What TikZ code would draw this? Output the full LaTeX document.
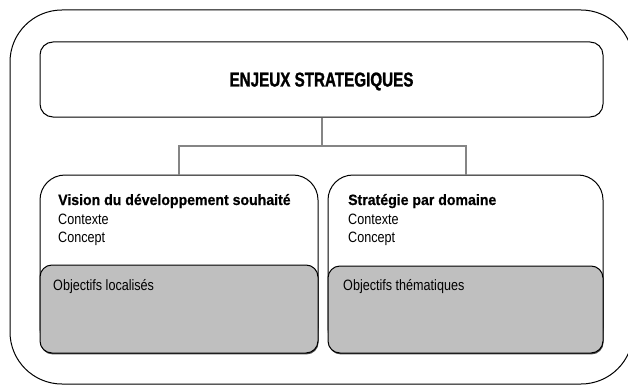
\documentclass[tikz,border=0pt]{standalone}
\usepackage{fontspec}
\setmainfont{Liberation Sans}[FakeStretch=0.84]
\newfontfamily\titlefont{Liberation Sans}[FakeStretch=0.76, BoldFeatures={FakeBold=1.2}]
\newfontfamily\headfont{Liberation Sans}[FakeStretch=0.94, BoldFeatures={FakeBold=0.6}]
\definecolor{boxgrey}{HTML}{BFBFBF}
\definecolor{conngrey}{HTML}{858585}
\definecolor{shadowgrey}{HTML}{4A4A4A}
\begin{document}
\begin{tikzpicture}[x=1pt,y=-1pt,
  box/.style={draw=black, line width=1pt, fill=white, inner sep=0pt},
  greybox/.style={draw=black, line width=1pt, fill=boxgrey, rounded corners=12pt, inner sep=0pt},
  shadowbox/.style={fill=shadowgrey, rounded corners=12pt, inner sep=0pt},
  conn/.style={draw=conngrey, line width=2pt},
  txt/.style={anchor=base west, inner sep=0pt, font=\fontsize{15}{17}\selectfont},
  head/.style={anchor=base west, inner sep=0pt, font=\headfont\bfseries\fontsize{15}{17}\selectfont},
  titletxt/.style={anchor=base, inner sep=0pt, font=\titlefont\bfseries\fontsize{20}{22}\selectfont}]
\useasboundingbox (0,0) rectangle (628,385);
% outer frame
\node[box, rounded corners=52pt, minimum width=623pt, minimum height=374pt] (outer) at (321.5,197) {};
% top box
\node[box, rounded corners=13pt, minimum width=563pt, minimum height=75pt] (top) at (321.5,79.5) {};
\node[titletxt] (title) at (321.5,86.5) {ENJEUX STRATEGIQUES};
% lower boxes
\node[box, rounded corners=25pt, minimum width=278pt, minimum height=178pt] (L) at (179,264) {};
\node[box, rounded corners=25pt, minimum width=275pt, minimum height=178pt] (R) at (465.5,264) {};
\node[shadowbox, minimum width=278pt, minimum height=88pt] (Lsh) at (179.6,310.4) {};
\node[greybox, minimum width=278pt, minimum height=88pt] (Lg) at (179,309) {};
\node[shadowbox, minimum width=275pt, minimum height=87pt] (Rsh) at (466.1,310.9) {};
\node[greybox, minimum width=275pt, minimum height=87pt] (Rg) at (465.5,309.5) {};
% connectors
\coordinate (j) at (321.5,146);
\draw[conn] (top.south) -- (j);
\draw[conn] (L.north) |- (j) -| (R.north);
% texts
\node[head] (lh) at (58,205) {Vision du développement souhaité};
\node[txt] (lc1) at (58,224) {Contexte};
\node[txt] (lc2) at (58,242) {Concept};
\node[txt] (lo) at (53,290) {Objectifs localisés};
\node[head] (rh) at (348,205) {Stratégie par domaine};
\node[txt] (rc1) at (348,224) {Contexte};
\node[txt] (rc2) at (348,242) {Concept};
\node[txt] (ro) at (343,290) {Objectifs thématiques};
\end{tikzpicture}
\end{document}
